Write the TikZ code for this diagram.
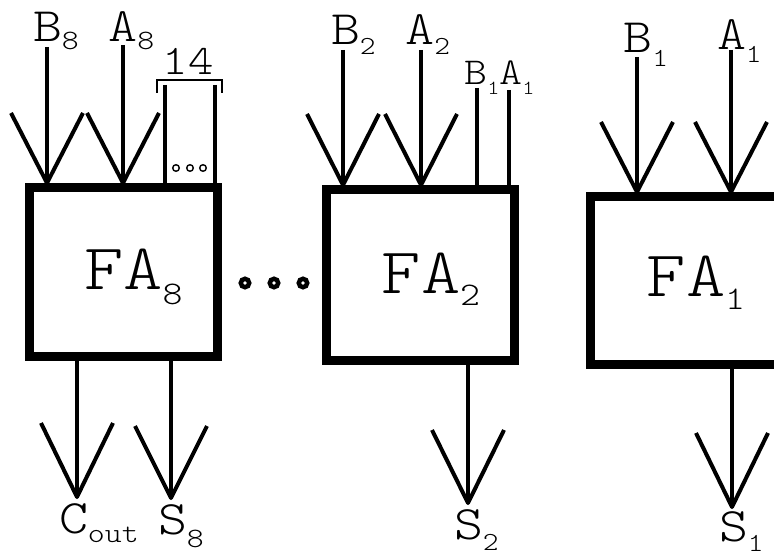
\documentclass[tikz,border=0pt]{standalone}
\usepackage{fontspec}
\newfontfamily\courlt[FakeStretch=1.15]{lmmonolt10-regular.otf}
\newcommand\cf{\courlt}
\newcommand\lsub[3]{\rlap{\raisebox{-#2pt}{\fontsize{#1}{#1}\selectfont #3}}}
\tikzset{
  wire/.style={line width=4pt, line join=round},
  fabox/.style={draw, line width=9pt, minimum width=188pt, inner sep=0pt},
  lbl/.style={inner sep=0pt, anchor=base, font=\cf\fontsize{48}{48}\selectfont},
  smalllbl/.style={inner sep=0pt, anchor=base, font=\cf\fontsize{38}{38}\selectfont},
  bigtxt/.style={inner sep=0pt, anchor=base, font=\cf\fontsize{65}{65}\selectfont},
  pics/vhead/.style={code={\draw[wire] (-36,-#1) -- (0,0) -- (36,-#1);}},
  pics/vhead/.default=71
}
\begin{document}
\begin{tikzpicture}[x=1pt,y=-1pt]
\useasboundingbox (0,0) rectangle (774,556);
\clip (0,0) rectangle (774,556);

% boxes
\node[fabox, minimum height=169pt] (fa8) at (123.5,272) {};
\node[fabox, minimum height=171pt] (fa2) at (420.5,275) {};
\node[fabox, minimum height=168pt] (fa1) at (684.5,280.5) {};

\node[bigtxt] (t8) at (123.5,290) {FA\lsub{33}{14}{8}};
\node[bigtxt] (t2) at (421,293) {FA\lsub{33}{13}{2}};
\node[bigtxt] (t1) at (686,297) {FA\lsub{33}{13}{1}};

% dots
\foreach \x/\n in {245/d1,274/d2,303/d3}
  \draw[line width=4.5pt] (\x,283) circle[radius=4.2pt];

% FA8 inputs
\node[lbl] (b8) at (47.5,42) {B\lsub{28}{8}{8}};
\coordinate (b8s) at (47,47);
\draw[wire] (b8s) -- (b8s |- fa8.north);
\pic at (b8s |- fa8.north) {vhead=70};
\node[lbl] (a8) at (123,42) {A\lsub{28}{8}{8}};
\coordinate (a8s) at (123,45);
\draw[wire] (a8s) -- (a8s |- fa8.north);
\pic at (a8s |- fa8.north) {vhead=70};

% bus
\coordinate (busl) at (165,85);
\coordinate (busr) at (215,85);
\draw[wire] (busl) -- (busl |- fa8.north);
\draw[wire] (busr) -- (busr |- fa8.north);
\draw[line width=2pt] (157,93) -- (157,80) -- (222,80) -- (222,93);
\node[inner sep=0pt, anchor=base, font=\cf\fontsize{42}{42}\selectfont] (w14) at (188,75) {14};
\foreach \x in {176,190,203}
  \draw[line width=1.4pt] (\x,168) circle[radius=3.3pt];

% FA8 outputs
\coordinate (cot) at (77,497);
\draw[wire] (cot |- fa8.south) -- (cot);
\pic at (cot) {vhead=74};
\node[lbl] (cout) at (73.5,533) {C\lsub{28}{9}{out}};
\coordinate (s8t) at (171,498);
\draw[wire] (s8t |- fa8.south) -- (s8t);
\pic at (s8t) {vhead=72};
\node[lbl] (s8) at (172.5,534) {S\lsub{28}{13}{8}};

% FA2 inputs
\node[lbl] (b2) at (345.5,45) {B\lsub{26}{10}{2}};
\coordinate (b2s) at (343,50);
\draw[wire] (b2s) -- (b2s |- fa2.north);
\pic at (b2s |- fa2.north) {vhead=71};
\node[lbl] (a2) at (420,45) {A\lsub{26}{10}{2}};
\coordinate (a2s) at (421,50);
\draw[wire] (a2s) -- (a2s |- fa2.north);
\pic at (a2s |- fa2.north) {vhead=71};
\node[smalllbl] (b1s) at (476,85) {B\lsub{20}{10}{1}};
\coordinate (b1w) at (477,88);
\draw[wire] (b1w) -- (b1w |- fa2.north);
\node[smalllbl] (a1s) at (511,85) {A\lsub{20}{10}{1}};
\coordinate (a1w) at (509,90);
\draw[wire] (a1w) -- (a1w |- fa2.north);

% FA2 output
\coordinate (s2t) at (468,503);
\draw[wire] (s2t |- fa2.south) -- (s2t);
\pic at (s2t) {vhead=73};
\node[lbl] (s2) at (468.5,539) {S\lsub{26}{11}{2}};

% FA1 inputs
\node[lbl] (b1) at (638,53) {B\lsub{26}{14}{1}};
\coordinate (b1f) at (637,57);
\draw[wire] (b1f) -- (b1f |- fa1.north);
\pic at (b1f |- fa1.north) {vhead=70};
\node[lbl] (a1) at (731.5,50) {A\lsub{26}{13}{1}};
\coordinate (a1f) at (731,50);
\draw[wire] (a1f) -- (a1f |- fa1.north);
\pic at (a1f |- fa1.north) {vhead=70};

% FA1 output
\coordinate (s1t) at (732,507);
\draw[wire] (s1t |- fa1.south) -- (s1t);
\pic at (s1t) {vhead=74};
\node[lbl] (s1) at (733.5,541) {S\lsub{26}{10}{1}};
\end{tikzpicture}
\end{document}
